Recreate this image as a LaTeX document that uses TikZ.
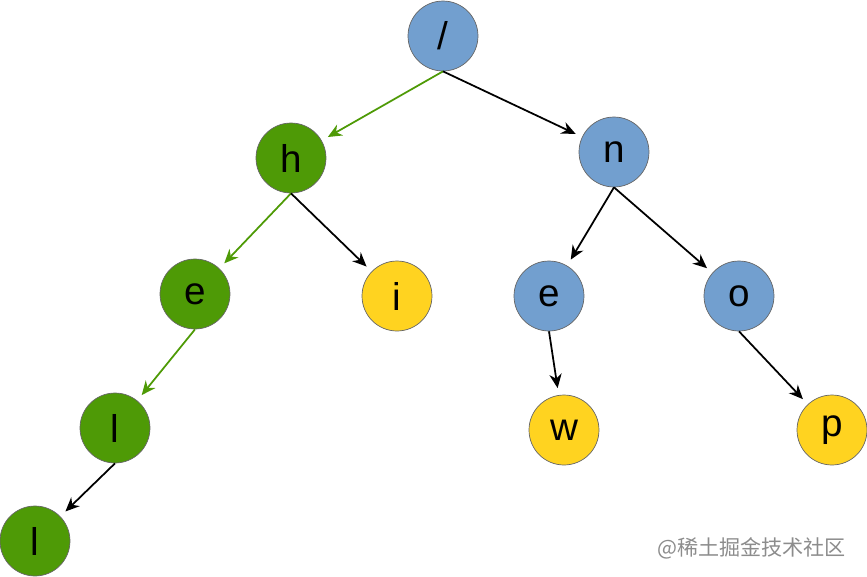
\documentclass[tikz,border=0pt]{standalone}
\usepackage{fontspec}
\setmainfont{Liberation Sans}
\newfontfamily\cjk{Noto Sans CJK SC}
\usetikzlibrary{arrows.meta}
\definecolor{nodeblue}{RGB}{114,159,207}
\definecolor{nodegreen}{RGB}{78,154,6}
\definecolor{nodeyellow}{RGB}{255,211,32}
\tikzset{
  trie/.style={circle, minimum size=1.4cm, inner sep=0pt, draw=black!60, thin, font=\fontsize{22}{26}\selectfont},
  bluenode/.style={trie, fill=nodeblue},
  greennode/.style={trie, fill=nodegreen},
  yellownode/.style={trie, fill=nodeyellow},
  edge/.style={line width=1pt, shorten >=4pt, -{Stealth[length=8pt,width=7pt]}},
  pathedge/.style={edge, draw=nodegreen}
}
\begin{document}
\begin{tikzpicture}[x=0.02cm, y=-0.02cm]
\useasboundingbox (0,0) rectangle (867,576);

% Nodes
\node (root) [bluenode] at (443,36) {/};
\node (h) [greennode] at (291,158) {h};
\node (n) [bluenode] at (614,152) {n};
\node (e1) [greennode] at (195,294) {e};
\node (i) [yellownode] at (397,296) {i};
\node (e2) [bluenode] at (549,296) {e};
\node (o) [bluenode] at (739,296) {o};
\node (l1) [greennode] at (115,428) {l};
\node (w) [yellownode] at (564,430) {w};
\node (p) [yellownode] at (832,430) {p};
\node (l2) [greennode] at (35,541) {l};

% Arrows
\draw [pathedge] (root.south) -- (h);
\draw [edge] (root.south) -- (n);
\draw [pathedge] (h.south) -- (e1);
\draw [edge] (h.south) -- (i);
\draw [edge] (n.south) -- (e2);
\draw [edge] (n.south) -- (o);
\draw [pathedge] (e1.south) -- (l1);
\draw [edge] (e2.south) -- (w);
\draw [edge] (o.south) -- (p);
\draw [edge] (l1.south) -- (l2);

% Watermark
\node (mark) [anchor=east, text=black!45, font=\cjk\fontsize{12}{14}\selectfont] at (852,548) {@稀土掘金技术社区};

\end{tikzpicture}
\end{document}
